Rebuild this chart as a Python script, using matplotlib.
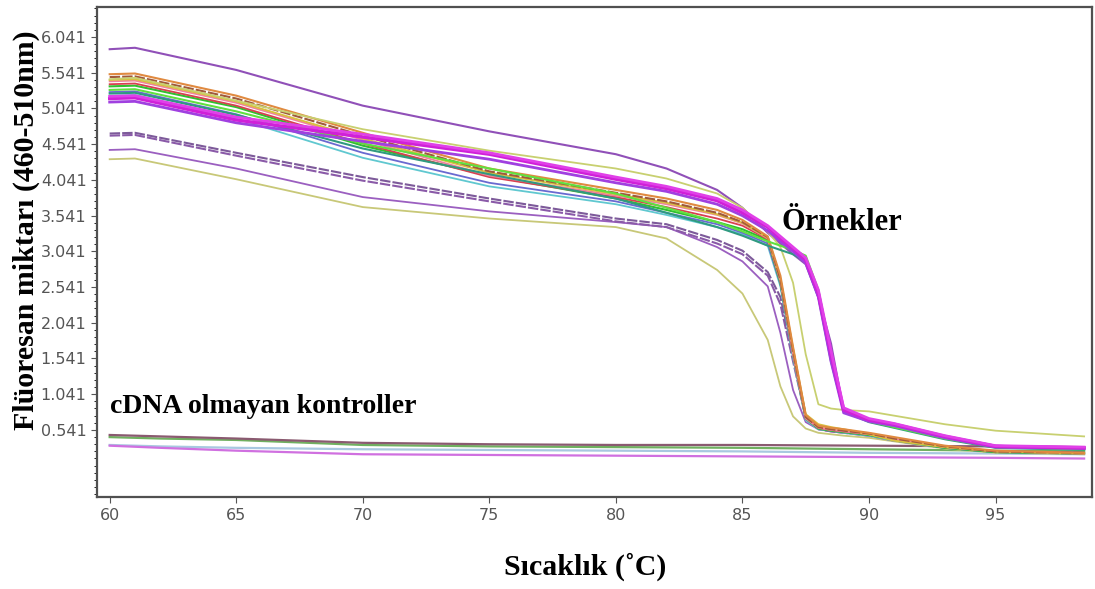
import matplotlib.pyplot as plt
from matplotlib.ticker import AutoMinorLocator

# temperature grid (deg C) shared by every curve
temps = [60, 61, 65, 70, 75, 80, 82, 84, 85, 86, 86.5, 87, 87.5, 88, 88.5, 89, 90, 91, 93, 95, 98.5]

# samples ("Örnekler")
top_purple = [5.87, 5.89, 5.58, 5.08, 4.72, 4.40, 4.20, 3.90, 3.65, 3.30, 3.15, 3.00, 2.86, 2.40, 1.75, 0.80, 0.68, 0.60, 0.45, 0.32, 0.27]
magenta_1 = [5.18, 5.19, 4.88, 4.64, 4.40, 4.05, 3.92, 3.75, 3.58, 3.38, 3.22, 3.08, 2.92, 2.45, 1.60, 0.82, 0.68, 0.62, 0.45, 0.31, 0.29]
magenta_2 = [5.13, 5.14, 4.84, 4.58, 4.33, 4.00, 3.88, 3.70, 3.54, 3.33, 3.18, 3.04, 2.88, 2.40, 1.50, 0.78, 0.66, 0.60, 0.43, 0.30, 0.28]
magenta_3 = [5.21, 5.22, 4.92, 4.68, 4.42, 4.08, 3.95, 3.78, 3.62, 3.40, 3.25, 3.10, 2.95, 2.50, 1.65, 0.85, 0.70, 0.63, 0.46, 0.32, 0.30]
green_late = [5.30, 5.31, 5.00, 4.55, 4.20, 3.85, 3.65, 3.45, 3.32, 3.18, 3.12, 3.06, 2.98, 2.50, 1.60, 0.82, 0.66, 0.58, 0.42, 0.30, 0.27]
teal_late = [5.25, 5.26, 4.95, 4.48, 4.12, 3.78, 3.58, 3.38, 3.26, 3.12, 3.06, 3.00, 2.90, 2.40, 1.50, 0.80, 0.65, 0.57, 0.41, 0.29, 0.26]
yellow_high = [5.45, 5.47, 5.15, 4.75, 4.45, 4.20, 4.06, 3.85, 3.65, 3.32, 3.10, 2.60, 1.60, 0.90, 0.84, 0.82, 0.80, 0.74, 0.62, 0.53, 0.45]
orange = [5.52, 5.53, 5.22, 4.70, 4.20, 3.90, 3.78, 3.62, 3.48, 3.25, 2.70, 1.70, 0.75, 0.60, 0.57, 0.55, 0.50, 0.44, 0.32, 0.25, 0.22]
brown = [5.48, 5.49, 5.18, 4.66, 4.16, 3.86, 3.74, 3.58, 3.45, 3.24, 2.65, 1.65, 0.72, 0.58, 0.55, 0.53, 0.49, 0.42, 0.31, 0.24, 0.22]
pink = [5.42, 5.43, 5.12, 4.60, 4.10, 3.82, 3.70, 3.55, 3.43, 3.22, 2.62, 1.60, 0.70, 0.57, 0.54, 0.52, 0.48, 0.41, 0.30, 0.24, 0.21]
red = [5.38, 5.39, 5.08, 4.55, 4.08, 3.80, 3.66, 3.50, 3.40, 3.21, 2.64, 1.62, 0.72, 0.57, 0.54, 0.52, 0.48, 0.41, 0.30, 0.24, 0.21]
green = [5.35, 5.36, 5.06, 4.52, 4.10, 3.78, 3.62, 3.45, 3.35, 3.20, 2.60, 1.60, 0.70, 0.56, 0.53, 0.51, 0.47, 0.40, 0.29, 0.23, 0.21]
blue = [5.27, 5.28, 4.96, 4.42, 4.00, 3.74, 3.58, 3.42, 3.30, 3.15, 2.58, 1.58, 0.70, 0.56, 0.53, 0.51, 0.47, 0.40, 0.29, 0.23, 0.21]
cyan = [5.22, 5.23, 4.90, 4.35, 3.95, 3.70, 3.55, 3.38, 3.28, 3.12, 2.55, 1.55, 0.68, 0.55, 0.53, 0.50, 0.46, 0.39, 0.29, 0.23, 0.21]
olive = [5.44, 5.45, 5.14, 4.62, 4.14, 3.84, 3.72, 3.56, 3.44, 3.23, 2.66, 1.68, 0.76, 0.62, 0.58, 0.55, 0.48, 0.39, 0.30, 0.24, 0.21]
purple_low_1 = [4.69, 4.70, 4.42, 4.08, 3.78, 3.50, 3.42, 3.20, 3.05, 2.75, 2.40, 1.60, 0.75, 0.56, 0.53, 0.51, 0.47, 0.40, 0.30, 0.24, 0.22]
purple_low_2 = [4.66, 4.67, 4.38, 4.03, 3.74, 3.46, 3.38, 3.15, 3.00, 2.70, 2.30, 1.50, 0.72, 0.55, 0.52, 0.50, 0.46, 0.39, 0.29, 0.23, 0.21]
purple_low_3 = [4.46, 4.47, 4.20, 3.80, 3.60, 3.45, 3.38, 3.10, 2.90, 2.55, 1.90, 1.10, 0.65, 0.55, 0.52, 0.50, 0.46, 0.40, 0.30, 0.24, 0.22]
yellow_low = [4.33, 4.34, 4.05, 3.66, 3.50, 3.38, 3.22, 2.78, 2.45, 1.80, 1.15, 0.73, 0.56, 0.50, 0.48, 0.46, 0.43, 0.38, 0.28, 0.22, 0.20]

# controls without cDNA
ctrl_temps = [60, 62, 65, 70, 75, 80, 85, 90, 95, 98.5]
ctrl_brown = [0.47, 0.45, 0.42, 0.36, 0.34, 0.33, 0.33, 0.32, 0.31, 0.30]
ctrl_green = [0.44, 0.42, 0.40, 0.33, 0.31, 0.30, 0.29, 0.27, 0.25, 0.24]
ctrl_blue = [0.33, 0.31, 0.29, 0.27, 0.26, 0.25, 0.24, 0.22, 0.21, 0.20]
ctrl_magenta = [0.32, 0.29, 0.25, 0.20, 0.19, 0.18, 0.17, 0.16, 0.15, 0.14]

yticks = [0.541, 1.041, 1.541, 2.041, 2.541, 3.041, 3.541, 4.041, 4.541, 5.041, 5.541, 6.041]
xticks = [60, 65, 70, 75, 80, 85, 90, 95]

samples = [
    (yellow_low, "#c8c878", 1.3, "-"),
    (purple_low_3, "#9b5fc0", 1.3, "-"),
    (purple_low_2, "#8a5aa8", 1.5, (0, (5, 1))),
    (purple_low_1, "#7d5a9a", 1.5, (0, (5, 1))),
    (top_purple, "#9050b8", 1.5, "-"),
    (cyan, "#60c8d0", 1.3, "-"),
    (blue, "#6a6ad0", 1.3, "-"),
    (green, "#30c030", 1.5, "-"),
    (red, "#d84050", 1.3, "-"),
    (pink, "#f080a0", 1.3, "-"),
    (olive, "#d8c040", 1.4, "-"),
    (brown, "#a05a3c", 1.5, (0, (5, 1))),
    (orange, "#e08a40", 1.5, "-"),
    (yellow_high, "#c8d070", 1.3, "-"),
    (teal_late, "#309a80", 1.5, "-"),
    (green_late, "#60e040", 1.5, "-"),
    (magenta_2, "#a040e0", 2.0, "-"),
    (magenta_1, "#d020d8", 2.4, "-"),
    (magenta_3, "#e040e8", 2.0, "-"),
]

controls = [
    (ctrl_blue, "#a8c8e0"),
    (ctrl_green, "#70b060"),
    (ctrl_brown, "#8a5a70"),
    (ctrl_magenta, "#d070e0"),
]

fig = plt.figure(figsize=(10.95, 5.89), dpi=100)
ax = fig.add_axes([0.0886, 0.156, 0.9084, 0.832])

for vals, col in controls:
    ax.plot(ctrl_temps, vals, color=col, lw=1.6)
for vals, col, lw, ls in samples:
    ax.plot(temps, vals, color=col, lw=lw, ls=ls)

ax.set_xlim(59.5, 98.8)
ax.set_ylim(-0.40, 6.46)
ax.set_xticks(xticks)
ax.set_yticks(yticks)
ax.set_yticklabels(["%.3f" % v for v in yticks])
ax.yaxis.set_minor_locator(AutoMinorLocator(5))

tick_font = ["Liberation Sans Narrow", "DejaVu Sans"]
for lab in ax.get_xticklabels() + ax.get_yticklabels():
    lab.set_family(tick_font)
    lab.set_fontsize(11.5)
    lab.set_color("#333333")
ax.tick_params(axis="both", colors="#555555", length=4, width=0.8)
ax.tick_params(axis="y", which="minor", length=2, width=0.6)
for sp in ax.spines.values():
    sp.set_color("#505050")
    sp.set_linewidth(1.6)

serif = "Liberation Serif"
ax.text(86.55, 3.45, "Örnekler", family=serif, weight="bold", fontsize=22, va="center", ha="left")
ax.text(60.0, 0.87, "cDNA olmayan kontroller", family=serif, weight="bold", fontsize=20, va="center", ha="left")

fig.text(0.534, 0.037, "Sıcaklık (˚C)", family=serif, weight="bold", fontsize=21.5, ha="center", va="center")
fig.text(0.024, 0.61, "Flüoresan miktarı (460-510nm)", family=serif, weight="bold", fontsize=21.5,
         ha="center", va="center", rotation=90)

fig.savefig("out.png", dpi=100)
